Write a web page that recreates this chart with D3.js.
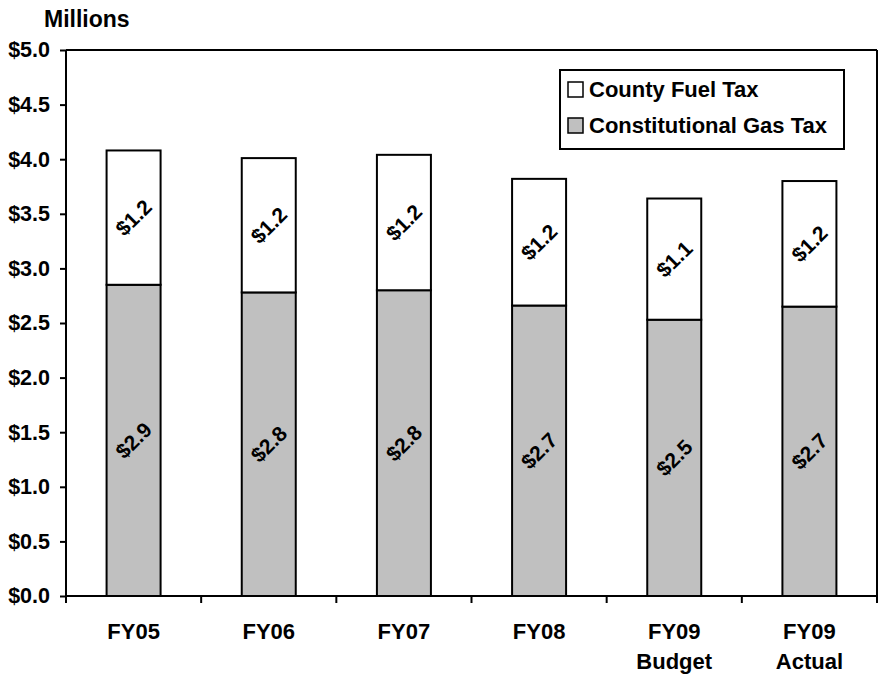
<!DOCTYPE html>
<html><head><meta charset="utf-8">
<script src="https://cdn.jsdelivr.net/npm/d3@7"></script>
<style>body{margin:0;background:#fff}svg{display:block}text{font-family:"Liberation Sans",Arial,sans-serif;font-weight:bold;fill:#000}</style>
</head><body><svg id="c" width="879" height="676"></svg>
<script>
const categories = [["FY05"],["FY06"],["FY07"],["FY08"],["FY09","Budget"],["FY09","Actual"]];
const gasTax = [2.85, 2.78, 2.80, 2.66, 2.53, 2.65];
const fuelTax = [1.23, 1.23, 1.24, 1.16, 1.11, 1.15];
const gasLabels = ["$2.9","$2.8","$2.8","$2.7","$2.5","$2.7"];
const fuelLabels = ["$1.2","$1.2","$1.2","$1.2","$1.1","$1.2"];
const yTicks = [0,0.5,1,1.5,2,2.5,3,3.5,4,4.5,5];
const seriesNames = ["County Fuel Tax","Constitutional Gas Tax"];
const seriesColors = ["#ffffff","#c0c0c0"];

const svg = d3.select("#c");
const L=66, R=877, T=50, B=596;
const x = d3.scaleBand().domain(d3.range(categories.length)).range([L,R]).paddingInner(0).paddingOuter(0);
const y = d3.scaleLinear().domain([0,5]).range([B,T]);
const bw = 54;

// frame top/right
svg.append("line").attr("x1",L).attr("x2",R).attr("y1",T).attr("y2",T).attr("stroke","#000").attr("stroke-width",2);
svg.append("line").attr("x1",R).attr("x2",R).attr("y1",T).attr("y2",B).attr("stroke","#000").attr("stroke-width",2);

// bars
const g = svg.append("g");
categories.forEach((c,i)=>{
  const cx = x(i)+x.bandwidth()/2;
  const x0 = cx-bw/2;
  g.append("rect").attr("x",x0).attr("width",bw).attr("y",y(gasTax[i])).attr("height",y(0)-y(gasTax[i]))
    .attr("fill",seriesColors[1]).attr("stroke","#000").attr("stroke-width",2);
  const tot = gasTax[i]+fuelTax[i];
  g.append("rect").attr("x",x0).attr("width",bw).attr("y",y(tot)).attr("height",y(gasTax[i])-y(tot))
    .attr("fill",seriesColors[0]).attr("stroke","#000").attr("stroke-width",2);
  const ly1 = y(gasTax[i]/2), ly2 = y(gasTax[i]+fuelTax[i]/2);
  g.append("text").attr("transform",`translate(${cx},${ly1}) rotate(-45)`).attr("text-anchor","middle").attr("dy","0.35em")
    .style("font-size","21px").text(gasLabels[i]);
  g.append("text").attr("transform",`translate(${cx},${ly2}) rotate(-45)`).attr("text-anchor","middle").attr("dy","0.35em")
    .style("font-size","21px").text(fuelLabels[i]);
});

// y axis
const ya = svg.append("g").attr("transform",`translate(${L},0)`)
  .call(d3.axisLeft(y).tickValues(yTicks).tickSize(6).tickPadding(10).tickFormat(d=>"$"+d3.format(".1f")(d)));
ya.select(".domain").attr("stroke","#000").attr("stroke-width",2).attr("d",`M0,${T}V${B}`);
ya.selectAll(".tick line").attr("stroke","#000").attr("stroke-width",2);
ya.selectAll(".tick text").style("font-size","21.5px").style("font-family","'Liberation Sans',Arial,sans-serif").style("font-weight","bold").attr("fill","#000");

// x axis
const xa = svg.append("g").attr("transform",`translate(0,${B})`);
xa.append("line").attr("x1",L).attr("x2",R).attr("stroke","#000").attr("stroke-width",2);
d3.range(categories.length+1).forEach(k=>{
  const xx = L + k*x.bandwidth();
  xa.append("line").attr("x1",xx).attr("x2",xx).attr("y1",0).attr("y2",7).attr("stroke","#000").attr("stroke-width",2);
});
categories.forEach((c,i)=>{
  const t = xa.append("text").attr("x",x(i)+x.bandwidth()/2).attr("y",43).attr("text-anchor","middle").style("font-size","22px");
  c.forEach((s,j)=>t.append("tspan").attr("x",x(i)+x.bandwidth()/2).attr("dy",j?30:0).text(s));
});

// title
svg.append("text").attr("x",44).attr("y",27).style("font-size","23px").text("Millions");

// legend
const lg = svg.append("g");
lg.append("rect").attr("x",560).attr("y",70).attr("width",284).attr("height",79).attr("fill","#fff").attr("stroke","#000").attr("stroke-width",2);
seriesNames.forEach((n,i)=>{
  const yy = 97 + i*36;
  lg.append("rect").attr("x",568).attr("y",yy-15).attr("width",15).attr("height",15).attr("fill",seriesColors[i]).attr("stroke","#000").attr("stroke-width",1.5);
  lg.append("text").attr("x",589).attr("y",yy).style("font-size","22px").text(n);
});
</script></body></html>
